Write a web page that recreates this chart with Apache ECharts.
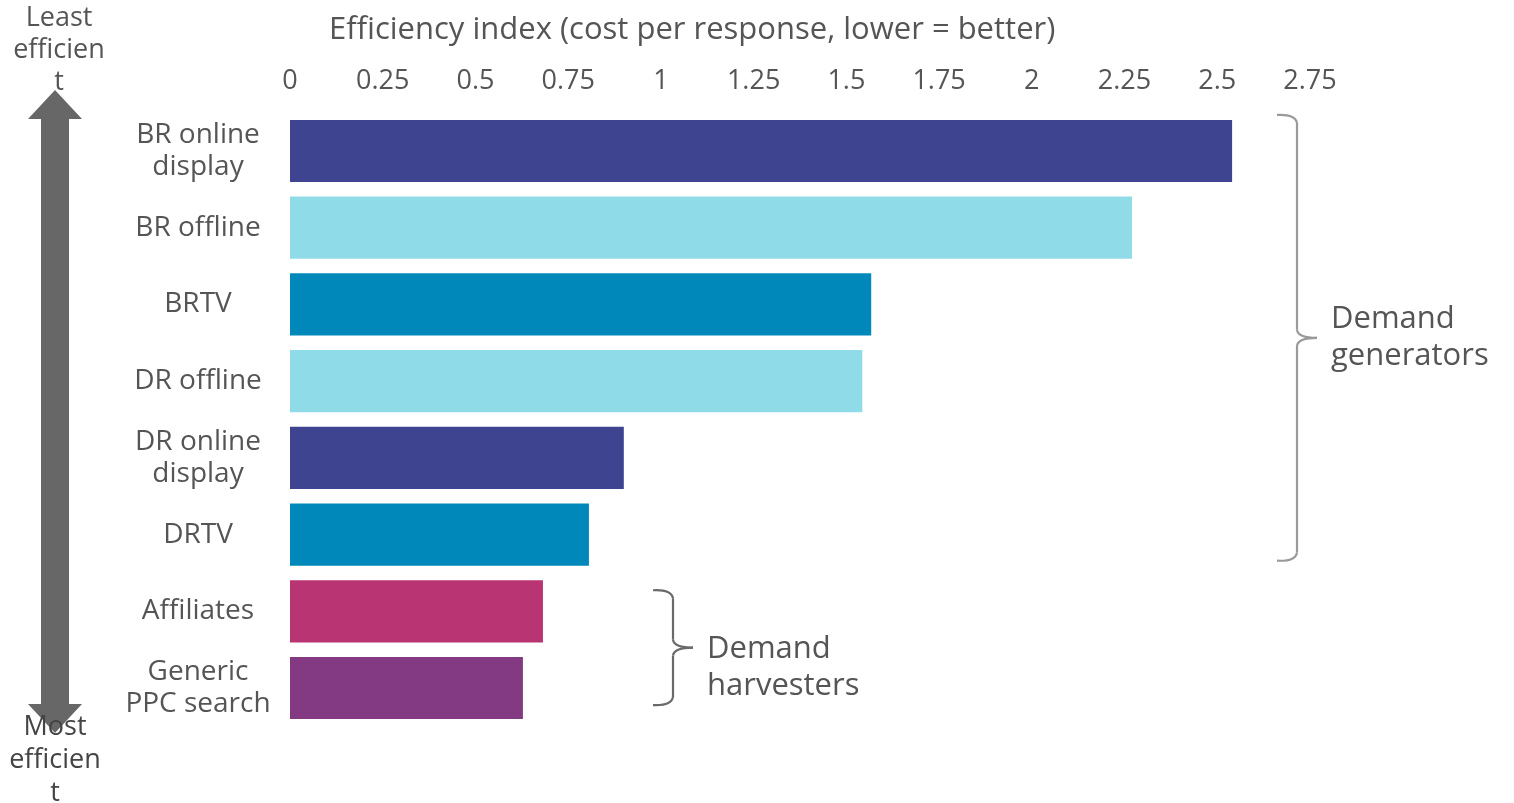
<!DOCTYPE html>
<html><head><meta charset="utf-8">
<script src="https://cdn.jsdelivr.net/npm/echarts@6/dist/echarts.min.js"></script>
<style>html,body{margin:0;padding:0;background:#fff}#c{width:1514px;height:803px}</style>
</head><body><div id="c"></div>
<script>
const categories = ['BR online\ndisplay','BR offline','BRTV','DR offline','DR online\ndisplay','DRTV','Affiliates','Generic\nPPC search'];
const values = [2.54, 2.27, 1.567, 1.543, 0.90, 0.806, 0.682, 0.628];
const barColors = ['#3F4491','#8FDBE8','#0088BB','#8FDBE8','#3F4491','#0088BB','#B83473','#833A82'];
const tickLabels = ['0','0.25','0.5','0.75','1','1.25','1.5','1.75','2','2.25','2.5','2.75'];
const axisTitle = 'Efficiency index (cost per response, lower = better)';
const groups = [
  {label:'Demand\ngenerators', from:0, to:5},
  {label:'Demand\nharvesters', from:6, to:7}
];
const FONT = '"Open Sans", "Noto Sans", sans-serif';
const TXT = '#555555';
const chart = echarts.init(document.getElementById('c'));
const option = {
  animation:false,
  title:{text:axisTitle,left:324,top:10,textStyle:{fontFamily:FONT,fontSize:31,fontWeight:'normal',color:TXT}},
  grid:{left:290,right:204,top:112.6,bottom:76.6,containLabel:false},
  xAxis:{type:'value',position:'top',min:0,max:2.75,interval:0.25,
    axisLine:{show:false},axisTick:{show:false},splitLine:{show:false},
    axisLabel:{margin:18,fontFamily:FONT,fontSize:27,color:TXT,
      formatter:(v)=>tickLabels[Math.round(v/0.25)]}},
  yAxis:{type:'category',inverse:true,data:categories,
    axisLine:{show:false},axisTick:{show:false},
    axisLabel:{margin:92,align:'center',fontFamily:FONT,fontSize:28,color:TXT,lineHeight:32}},
  series:[{type:'bar',data:values.map((v,i)=>({value:v,itemStyle:{color:barColors[i]}})),
    barCategoryGap:'19%'}]
};
chart.setOption(option);

function buildGraphics(){
  const g = [];
  const band = chart.convertToPixel({yAxisIndex:0},1) - chart.convertToPixel({yAxisIndex:0},0);
  const barH = band*0.81;
  const bx = [1297, 673];
  const cols = ['#9a9a9a','#6a6a6a'];
  const topAdj = [-5, 10], botAdj = [-5, -14], txtAdj = [0, 20];
  groups.forEach((gr,k)=>{
    const y0 = chart.convertToPixel({yAxisIndex:0},gr.from) - barH/2 + topAdj[k];
    const y1 = chart.convertToPixel({yAxisIndex:0},gr.to) + barH/2 + botAdj[k];
    const x = bx[k];
    const ym = (y0+y1)/2;
    const st = {stroke:cols[k],lineWidth:2.2,fill:null};
    g.push({type:'bezierCurve',shape:{x1:x-20,y1:y0,x2:x,y2:y0+8,cpx1:x-2,cpy1:y0-1},style:st});
    g.push({type:'line',shape:{x1:x,y1:y0+8,x2:x,y2:ym-8},style:st});
    g.push({type:'bezierCurve',shape:{x1:x,y1:ym-8,x2:x+20,y2:ym,cpx1:x+1,cpy1:ym},style:st});
    g.push({type:'bezierCurve',shape:{x1:x+20,y1:ym,x2:x,y2:ym+8,cpx1:x+1,cpy1:ym},style:st});
    g.push({type:'line',shape:{x1:x,y1:ym+8,x2:x,y2:y1-8},style:st});
    g.push({type:'bezierCurve',shape:{x1:x,y1:y1-8,x2:x-20,y2:y1,cpx1:x-2,cpy1:y1+1},style:st});
    g.push({type:'text',x:x+34,y:ym+txtAdj[k],style:{text:gr.label,fontFamily:FONT,fontSize:31,fill:TXT,lineHeight:37,verticalAlign:'middle'}});
  });
  // left arrow
  const cx = 55, top = 90, bot = 733, hw = 27, sw = 14, hh = 29;
  g.push({type:'polygon',z:1,shape:{points:[[cx,top],[cx+hw,top+hh],[cx+sw,top+hh],[cx+sw,bot-hh],[cx+hw,bot-hh],[cx,bot],[cx-hw,bot-hh],[cx-sw,bot-hh],[cx-sw,top+hh],[cx-hw,top+hh]]},style:{fill:'#676767'}});
  g.push({type:'text',z:5,x:59,y:2,style:{text:'Least\nefficien\nt',fontFamily:FONT,fontSize:27,fill:TXT,lineHeight:32,align:'center'}});
  g.push({type:'text',z:5,x:55,y:711,style:{text:'Most\nefficien\nt',fontFamily:FONT,fontSize:27,fill:'#444444',lineHeight:33,align:'center'}});
  chart.setOption({graphic:g});
}
buildGraphics();
</script></body></html>
